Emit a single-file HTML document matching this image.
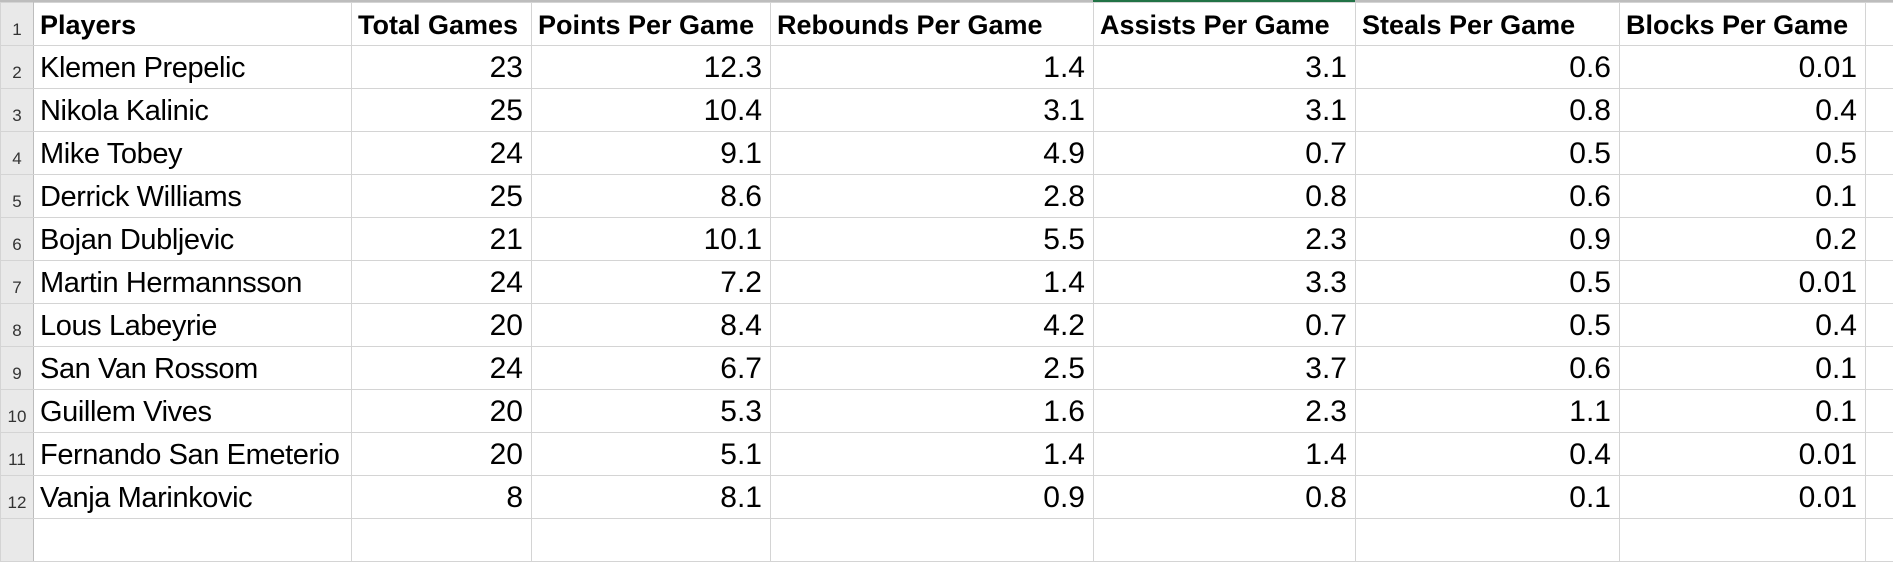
<!DOCTYPE html>
<html><head><style>
html,body{margin:0;padding:0;background:#fff;}
body{width:1893px;height:520px;overflow:hidden;position:relative;font-family:"Liberation Sans",Arial,sans-serif;}
table{position:absolute;left:0;top:2px;border-collapse:collapse;table-layout:fixed;width:1893px;}
td{box-sizing:border-box;border:1px solid #d4d4d4;height:43px;padding:0 8px;font-size:30px;color:#000;white-space:nowrap;overflow:hidden;vertical-align:bottom;line-height:40px;}
td.rh{background:#e9e9e9;color:#333;font-size:17px;text-align:center;padding:0;border-right:1px solid #bdbdbd;line-height:30px;}
td.n{text-align:right;}
tr.h td{font-weight:bold;font-size:27px;}
tr.h td.rh{font-size:17px;font-weight:normal;}
td.a{padding-left:6px;padding-right:0;}
td.p{font-size:29px;letter-spacing:-0.4px;}
.topline{position:absolute;left:0;top:0;width:1893px;height:2px;background:#bdbdbd;}
.green{position:absolute;left:1093px;top:0;width:262px;height:2px;background:#217346;}
</style></head><body>
<div class="topline"></div><div class="green"></div>
<table>
<colgroup><col style="width:33px"><col style="width:318px"><col style="width:180px"><col style="width:239px"><col style="width:323px"><col style="width:262px"><col style="width:264px"><col style="width:246px"><col style="width:28px"></colgroup>
<tr class="h"><td class="rh">1</td><td class="a">Players</td><td class="a">Total Games</td><td class="a">Points Per Game</td><td class="a">Rebounds Per Game</td><td class="a">Assists Per Game</td><td class="a">Steals Per Game</td><td class="a">Blocks Per Game</td><td></td></tr>
<tr><td class="rh">2</td><td class="a p">Klemen Prepelic</td><td class="n">23</td><td class="n">12.3</td><td class="n">1.4</td><td class="n">3.1</td><td class="n">0.6</td><td class="n">0.01</td><td></td></tr>
<tr><td class="rh">3</td><td class="a p">Nikola Kalinic</td><td class="n">25</td><td class="n">10.4</td><td class="n">3.1</td><td class="n">3.1</td><td class="n">0.8</td><td class="n">0.4</td><td></td></tr>
<tr><td class="rh">4</td><td class="a p">Mike Tobey</td><td class="n">24</td><td class="n">9.1</td><td class="n">4.9</td><td class="n">0.7</td><td class="n">0.5</td><td class="n">0.5</td><td></td></tr>
<tr><td class="rh">5</td><td class="a p">Derrick Williams</td><td class="n">25</td><td class="n">8.6</td><td class="n">2.8</td><td class="n">0.8</td><td class="n">0.6</td><td class="n">0.1</td><td></td></tr>
<tr><td class="rh">6</td><td class="a p">Bojan Dubljevic</td><td class="n">21</td><td class="n">10.1</td><td class="n">5.5</td><td class="n">2.3</td><td class="n">0.9</td><td class="n">0.2</td><td></td></tr>
<tr><td class="rh">7</td><td class="a p">Martin Hermannsson</td><td class="n">24</td><td class="n">7.2</td><td class="n">1.4</td><td class="n">3.3</td><td class="n">0.5</td><td class="n">0.01</td><td></td></tr>
<tr><td class="rh">8</td><td class="a p">Lous Labeyrie</td><td class="n">20</td><td class="n">8.4</td><td class="n">4.2</td><td class="n">0.7</td><td class="n">0.5</td><td class="n">0.4</td><td></td></tr>
<tr><td class="rh">9</td><td class="a p">San Van Rossom</td><td class="n">24</td><td class="n">6.7</td><td class="n">2.5</td><td class="n">3.7</td><td class="n">0.6</td><td class="n">0.1</td><td></td></tr>
<tr><td class="rh">10</td><td class="a p">Guillem Vives</td><td class="n">20</td><td class="n">5.3</td><td class="n">1.6</td><td class="n">2.3</td><td class="n">1.1</td><td class="n">0.1</td><td></td></tr>
<tr><td class="rh">11</td><td class="a p">Fernando San Emeterio</td><td class="n">20</td><td class="n">5.1</td><td class="n">1.4</td><td class="n">1.4</td><td class="n">0.4</td><td class="n">0.01</td><td></td></tr>
<tr><td class="rh">12</td><td class="a p">Vanja Marinkovic</td><td class="n">8</td><td class="n">8.1</td><td class="n">0.9</td><td class="n">0.8</td><td class="n">0.1</td><td class="n">0.01</td><td></td></tr>
<tr><td class="rh"></td><td></td><td></td><td></td><td></td><td></td><td></td><td></td><td></td></tr>
</table>
</body></html>
